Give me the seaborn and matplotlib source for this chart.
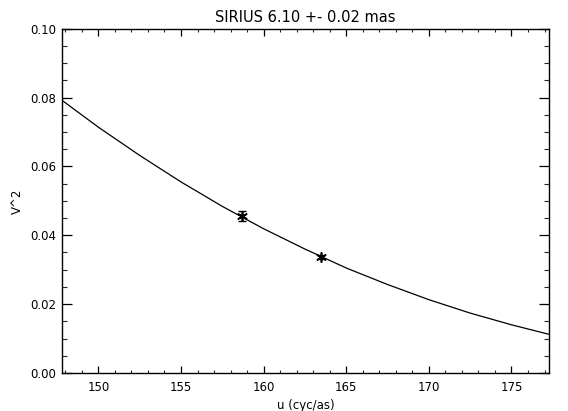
import matplotlib
matplotlib.use("Agg")
import matplotlib.pyplot as plt
import seaborn as sns
import pandas as pd
from matplotlib.ticker import MultipleLocator, FormatStrFormatter

# Model curve
curve_u = [147.8, 150.0, 152.5, 155.0, 157.5, 160.0, 162.5, 165.0, 167.5, 170.0, 172.5, 175.0, 177.3]
curve_v2 = [0.0792, 0.0714, 0.0632, 0.0555, 0.0484, 0.0419, 0.0360, 0.0305, 0.0257, 0.0213, 0.0174, 0.0140, 0.0112]

# Measured points
obs_u = [158.72, 163.49]
obs_v2 = [0.0456, 0.0336]
obs_err = [0.0014, 0.0006]

title = "SIRIUS 6.10 +- 0.02 mas"
xlabel = "u (cyc/as)"
ylabel = "V^2"

sns.set_style("white")
plt.rcParams['font.family'] = ['DejaVu Sans']

fig = plt.figure(figsize=(5.68, 4.11), dpi=100)
ax = fig.add_axes([62/568, 1-373/411, (549-62)/568, (373-28.7)/411])

df = pd.DataFrame({"u": curve_u, "v2": curve_v2})
sns.lineplot(data=df, x="u", y="v2", ax=ax, color="black", linewidth=0.9)

ax.errorbar(obs_u, obs_v2, yerr=obs_err, fmt="none", ecolor="black",
            elinewidth=1.0, capsize=3, capthick=1.0)
sns.scatterplot(x=obs_u, y=obs_v2, ax=ax, marker=(6, 2, 0), s=45,
                color="black", linewidth=1.2, edgecolor="black")

ax.set_xlim(147.8, 177.27)
ax.set_ylim(0.0, 0.10)
ax.xaxis.set_major_locator(MultipleLocator(5))
ax.xaxis.set_minor_locator(MultipleLocator(1))
ax.yaxis.set_major_locator(MultipleLocator(0.02))
ax.yaxis.set_minor_locator(MultipleLocator(0.005))
ax.yaxis.set_major_formatter(FormatStrFormatter("%.2f"))
ax.xaxis.set_major_formatter(FormatStrFormatter("%d"))

ax.tick_params(axis="x", which="major", direction="in", length=5, width=0.9,
               top=True, bottom=True, labelsize=8.5, pad=6, colors="black")
ax.tick_params(axis="x", which="minor", direction="in", length=2.5, width=0.8,
               top=True, bottom=True)
ax.tick_params(axis="y", which="major", direction="in", length=7, width=0.9,
               left=True, right=True, labelsize=8.5, pad=4, colors="black")
ax.tick_params(axis="y", which="minor", direction="in", length=3.6, width=0.8,
               left=True, right=True)

for s in ax.spines.values():
    s.set_color("black")
    s.set_linewidth(1.0)

ax.set_title(title, fontsize=10.5, pad=5, color="black")
ax.set_xlabel(xlabel, fontsize=8.5, labelpad=3, color="black")
ax.set_ylabel(ylabel, fontsize=8.5, labelpad=5, color="black")

fig.savefig("out.png", dpi=100)
